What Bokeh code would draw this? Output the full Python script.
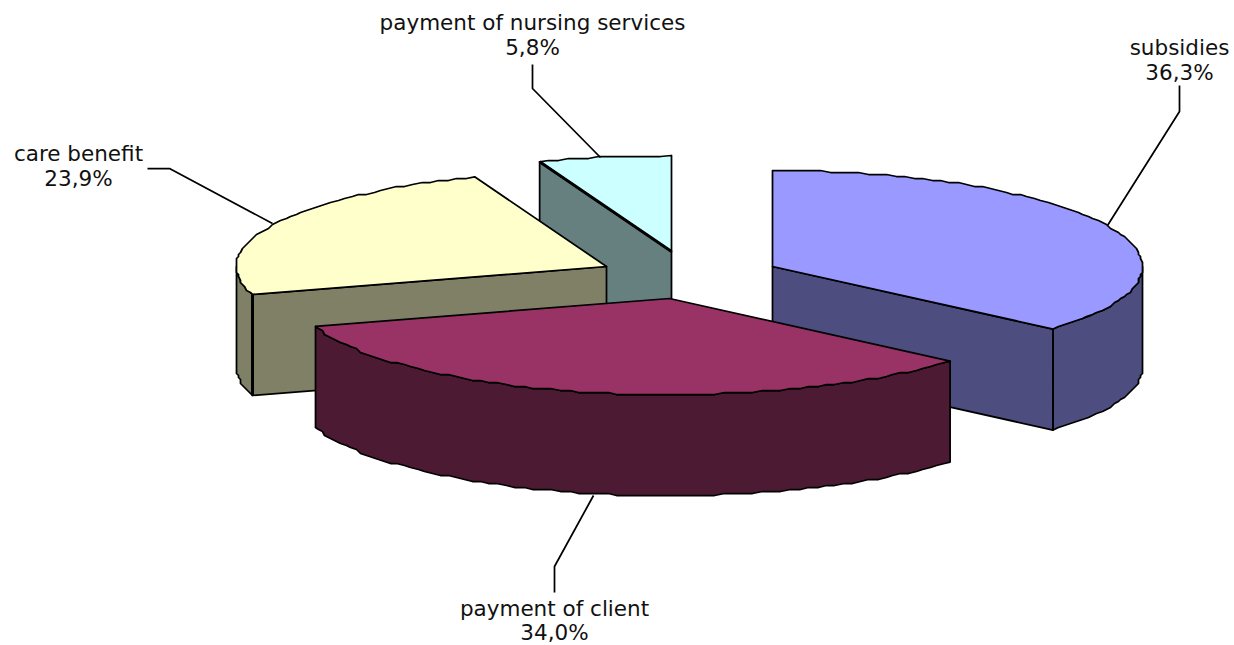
import numpy as np
from bokeh.plotting import figure
from bokeh.embed import file_html
from bokeh.resources import INLINE
from bokeh.core.properties import value

# --- data ---
categories = ["subsidies", "payment of client", "care benefit", "payment of nursing services"]
shares = [36.3, 34.0, 23.9, 5.8]
share_labels = ["36,3%", "34,0%", "23,9%", "5,8%"]

# --- style / layout ---
top_colors = ["#9999FF", "#993366", "#FFFFCC", "#CCFFFF"]
wall_colors = ["#4D4D80", "#4D1A33", "#808066", "#668080"]
apex_x = [772, 669, 606, 671]
apex_y = [266, 298, 266, 251]
RX, RY, DEPTH = 370, 96, 101
label_x = [1179, 554, 78, 532]
label_y = [[47, 72], [608, 632], [153, 178], [22, 47]]
leader_x = [[1107, 1179, 1179], [593, 554, 554], [272, 169, 147], [600, 532, 532]]
leader_y = [[225, 111, 85], [495, 566, 592], [223, 168, 168], [157, 88, 64]]
draw_order = [3, 2, 0, 1]
FONT = "DejaVu Sans"
FONT_SIZE = "21.5px"

p = figure(width=1234, height=645, x_range=(0, 1234), y_range=(645, 0),
           output_backend="svg", toolbar_location=None, min_border=0,
           outline_line_color=None, background_fill_color="white")
p.axis.visible = False
p.grid.visible = False


def rim(cx, cy, a0, a1):
    n = max(int(abs(a1 - a0) / 1.5), 2)
    t = np.radians(np.linspace(a0, a1, n + 1))
    x = cx + RX * np.sin(t)
    y = cy - RY * np.cos(t)
    # the original's outline is visibly coarse: snap inner points to a lattice
    x[1:-1] = np.round(x[1:-1] / 2) * 2
    y[1:-1] = np.round(y[1:-1] / 2) * 2
    return x, y


def face(xs, ys, color, lw=1.75):
    p.patch(xs, ys, fill_color=color, line_color="black", line_width=lw, line_join="round")


edges = np.concatenate([[0], np.cumsum(shares)]) * 3.6
for i in draw_order:
    a0, a1 = edges[i], edges[i + 1]
    cx, cy = apex_x[i], apex_y[i]
    sx, sy = cx + RX * np.sin(np.radians(a0)), cy - RY * np.cos(np.radians(a0))
    ex, ey = cx + RX * np.sin(np.radians(a1)), cy - RY * np.cos(np.radians(a1))

    # radial walls that look at the viewer
    if a0 > 180:
        face([cx, sx, sx, cx], [cy, sy, sy + DEPTH, cy + DEPTH], wall_colors[i])
    if a1 < 180:
        face([cx, ex, ex, cx], [cy, ey, ey + DEPTH, cy + DEPTH], wall_colors[i])

    # outer wall: part of the rim on the near side
    v0, v1 = max(a0, 90), min(a1, 270)
    if v1 > v0:
        wx, wy = rim(cx, cy, v0, v1)
        face(np.concatenate([wx, wx[::-1]]),
             np.concatenate([wy, wy[::-1] + DEPTH]), wall_colors[i])

    # top
    tx, ty = rim(cx, cy, a0, a1)
    face(np.concatenate([[cx], tx]), np.concatenate([[cy], ty]), top_colors[i])

    # heavier seams of the original
    if i == 3:
        p.line([cx, sx], [cy, sy], line_color="black", line_width=3)
    if i == 2:
        p.line([sx, sx], [sy, sy + DEPTH], line_color="black", line_width=3)

for i in range(4):
    p.line(leader_x[i], leader_y[i], line_color="black", line_width=1.75)
    p.text([label_x[i]] * 2, label_y[i], text=[categories[i], share_labels[i]],
           text_align="center", text_baseline="middle", text_color="#111111",
           text_font=value(FONT), text_font_size=value(FONT_SIZE))

open("out.html", "w").write(file_html(p, INLINE))
